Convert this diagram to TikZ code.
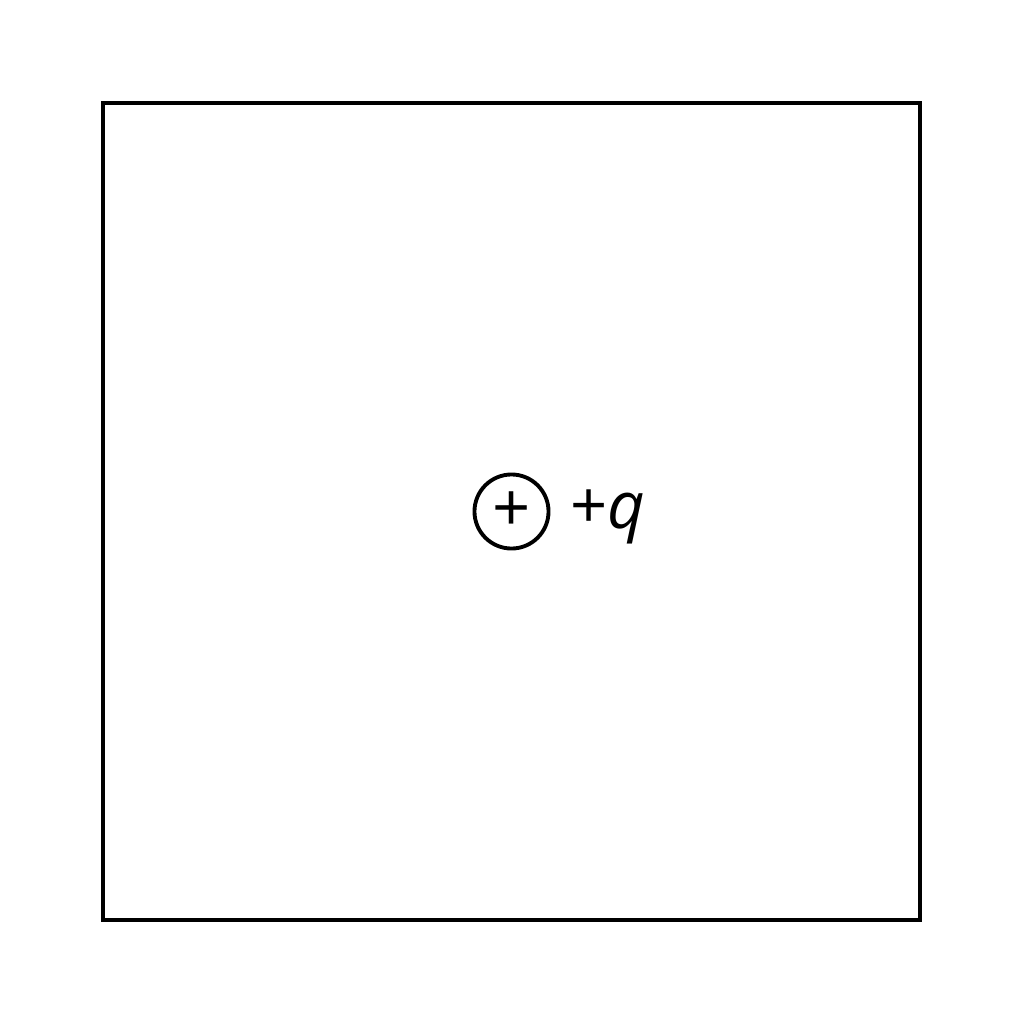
\documentclass[tikz,border=0pt]{standalone}
\usepackage{fontspec}
\setmainfont{Open Sans}
\usepackage{xcolor}
\usepackage{tikz}

\begin{document}
\begin{tikzpicture}[x=0.01cm,y=-0.01cm]
    \tikzstyle{every node}+=[inner sep=0pt]
    \tikzstyle{charge}=[draw, black, circle, line width=1.1pt, minimum size=0.74cm, font=\fontsize{19}{22}\selectfont]
    \useasboundingbox (0,0) rectangle (1024,1024);
    \draw [black, line width=1.1pt] (103,103) rectangle (920,920);
    \node [charge] (q) at (511.5,511.5) {+};
    \node [anchor=base west, font=\fontsize{18.5}{22}\selectfont] (qlabel) at (570,528) {+\textit{q}};
\end{tikzpicture}
\end{document}
